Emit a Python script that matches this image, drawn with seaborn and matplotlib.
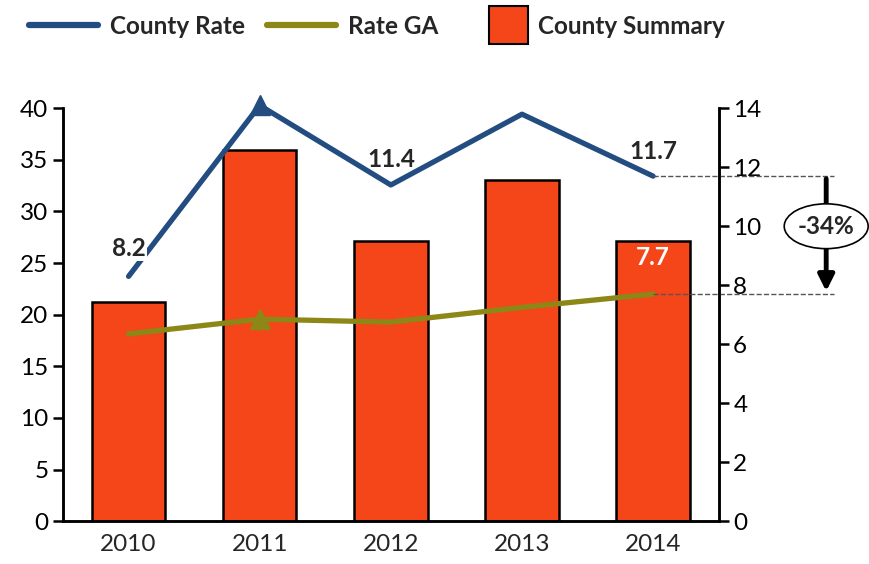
import seaborn as sns
import pandas as pd
import matplotlib.pyplot as plt
from matplotlib.lines import Line2D
from matplotlib.patches import Ellipse, Rectangle

years = ["2010", "2011", "2012", "2013", "2014"]
county_summary = [21.2, 36.0, 27.1, 33.1, 27.1]
county_rate = [8.3, 14.1, 11.4, 13.8, 11.7]
rate_ga = [6.35, 6.85, 6.75, 7.25, 7.7]

bar_color = "#F5461A"
rate_color = "#234C80"
ga_color = "#8C8716"

sns.set_style("white")
plt.rcParams["font.family"] = ["Lato", "DejaVu Sans"]

df = pd.DataFrame({"year": years, "summary": county_summary,
                   "rate": county_rate, "ga": rate_ga, "pos": range(5)})

fig, ax = plt.subplots(figsize=(8.69, 5.64), dpi=100)
fig.subplots_adjust(left=0.0725, right=0.827, bottom=0.076, top=0.808)

sns.barplot(data=df, x="year", y="summary", color=bar_color, width=0.56,
            edgecolor="black", linewidth=1.8, saturation=1, ax=ax)
ax.set_ylim(0, 40)
ax.set_xlim(-0.5, 4.5)
ax.set_yticks(range(0, 41, 5))
ax.set_xlabel("")
ax.set_ylabel("")

ax2 = ax.twinx()
sns.lineplot(data=df, x="pos", y="rate", color=rate_color, linewidth=3.8, ax=ax2)
sns.lineplot(data=df, x="pos", y="ga", color=ga_color, linewidth=3.8, ax=ax2)
for ln in ax2.lines:
    ln.set_clip_on(False)
ax2.plot([1], [county_rate[1]], marker="^", markersize=14, color=rate_color, clip_on=False)
ax2.plot([1], [rate_ga[1]], marker="^", markersize=14, color=ga_color, clip_on=False)
ax2.set_ylim(0, 14)
ax2.set_yticks(range(0, 15, 2))
ax2.set_ylabel("")
ax2.set_xlim(-0.5, 4.5)

for a in (ax, ax2):
    a.spines["top"].set_visible(False)
    for s in ["left", "right", "bottom"]:
        a.spines[s].set_color("black")
        a.spines[s].set_linewidth(1.8)
    a.tick_params(axis="y", length=7, width=1.8, labelsize=17.5, colors="black")
    a.tick_params(axis="x", length=0, labelsize=17.5, pad=9)

# value labels
lbl = dict(ha="center", va="center", fontsize=17.5, fontweight="bold")
ax2.text(0, 9.25, "8.2", bbox=dict(facecolor="white", edgecolor="none", pad=1), **lbl)
ax2.text(2, 12.25, "11.4", **lbl)
ax2.text(4, 12.55, "11.7", **lbl)
ax2.text(4, 8.95, "7.7", color="white", **lbl)

# change annotation
ax2.plot([4, 5.38], [county_rate[4], county_rate[4]], ls="--", color="#555555",
         lw=1, clip_on=False)
ax2.plot([4, 5.38], [rate_ga[4], rate_ga[4]], ls="--", color="#555555",
         lw=1, clip_on=False)
ax2.annotate("", xy=(5.32, rate_ga[4]), xytext=(5.32, county_rate[4]),
             arrowprops=dict(arrowstyle="-|>", color="black", lw=3.5,
                             mutation_scale=24), annotation_clip=False)
ell = Ellipse((5.32, 10.0), 0.64, 1.52, facecolor="white", edgecolor="black",
              lw=1.2, clip_on=False, zorder=5)
ax2.add_patch(ell)
ax2.text(5.32, 10.0, "-34%", ha="center", va="center", fontsize=17.5,
         fontweight="bold", zorder=6)

# legend drawn in figure coordinates
W, H = 869, 564
ly = 1 - 25 / H
leg_font = dict(fontsize=17.5, fontweight="bold", va="center_baseline", ha="left")
fig.add_artist(Line2D([29 / W, 98 / W], [ly, ly], color=rate_color, lw=4.5))
fig.text(110 / W, ly, "County Rate", **leg_font)
fig.add_artist(Line2D([267 / W, 336 / W], [ly, ly], color=ga_color, lw=4.5))
fig.text(348 / W, ly, "Rate GA", **leg_font)
fig.add_artist(Rectangle((489 / W, ly - 19 / H), 39 / W, 38 / H,
                         facecolor=bar_color, edgecolor="black", lw=1.5,
                         transform=fig.transFigure))
fig.text(538 / W, ly, "County Summary", **leg_font)

plt.savefig("out.png", dpi=100)
